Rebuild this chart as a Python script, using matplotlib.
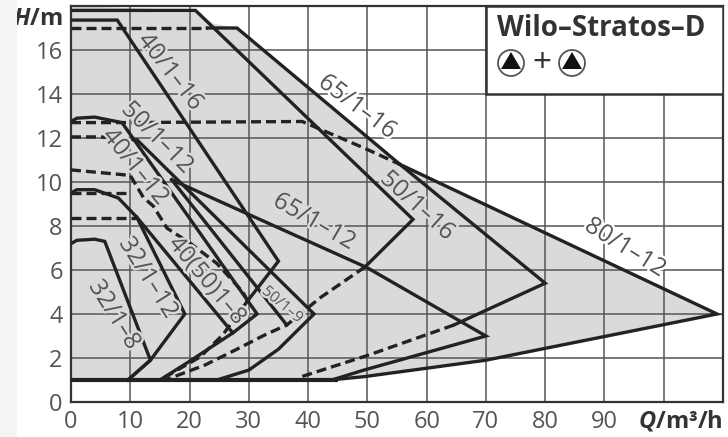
import matplotlib
matplotlib.use('Agg')
import matplotlib.pyplot as plt
import matplotlib.patheffects as pe
from matplotlib.patches import Rectangle, Circle, Polygon

plt.rcParams['font.family'] = ['Open Sans', 'DejaVu Sans']
plt.rcParams['mathtext.fontset'] = 'custom'
plt.rcParams['mathtext.it'] = 'Open Sans:italic:bold'
plt.rcParams['mathtext.rm'] = 'Open Sans:bold'

# DATA ##########################################
x_ticks = [0, 10, 20, 30, 40, 50, 60, 70, 80, 90]
y_ticks = [0, 2, 4, 6, 8, 10, 12, 14, 16]
x_grid = [10, 20, 30, 40, 50, 60, 70, 80, 90, 100]
y_grid = [2, 4, 6, 8, 10, 12, 14, 16]

# outer envelope of the grey field
env_q = [0, 0, 21, 24, 28, 55.5, 109, 70, 49.4, 43.6]
env_h = [1, 18, 17.8, 17.2, 17.0, 10.8, 4, 1.9, 1.15, 1]

# solid curves
q_base = [0, 45]
h_base = [1, 1]
q_32_8 = [0, 1, 4, 5.7, 13.4, 9.6]
h_32_8 = [7.2, 7.35, 7.4, 7.3, 1.9, 1]
q_32_12 = [0, 1, 4, 8, 11.1, 19.2, 13.4, 9.6]
h_32_12 = [9.5, 9.65, 9.65, 9.27, 8.4, 4, 1.9, 1]
q_40_8 = [11.1, 27.3, 20, 15]
h_40_8 = [8.4, 3.14, 1.85, 1]
q_50_12 = [0, 1, 4, 8.6, 31.4, 27.3]
h_50_12 = [12.75, 12.9, 12.95, 12.7, 4, 3.14]
q_40_12 = [11.2, 41, 35, 30, 24.6]
h_40_12 = [11.9, 4, 2.4, 1.45, 1]
q_50_9 = [17, 36.4]
h_50_9 = [10.1, 3.5]
q_40_16 = [0, 7.8, 35, 29.8]
h_40_16 = [17.36, 17.36, 6.4, 4.6]
q_65_12 = [17, 50, 70, 49.4, 44]
h_65_12 = [10.1, 6.1, 3, 1.45, 1]
q_50_16 = [0, 21, 57.7, 49.6]
h_50_16 = [17.8, 17.8, 8.3, 6.14]
q_65_16 = [23, 28, 55.5, 80, 64.6]
h_65_16 = [17, 17, 10.8, 5.4, 3.5]
q_80_12 = [55.5, 109, 70, 49.4, 43.6]
h_80_12 = [10.8, 4, 1.9, 1.15, 1]

# dashed curves
qd_17 = [0, 23]
hd_17 = [17, 17]
qd_127 = [0, 8.6, 39, 49.4, 55.5]
hd_127 = [12.7, 12.7, 12.75, 11.55, 10.8]
qd_12 = [0, 5, 11.2]
hd_12 = [12.05, 12.05, 11.9]
qd_105 = [0, 10, 12.2, 13.9, 16.2, 20.2, 24.6, 29, 30.2]
hd_105 = [10.55, 10.3, 9.3, 8.9, 7.9, 7.2, 6.3, 5, 4.4]
qd_95 = [0, 10]
hd_95 = [9.5, 9.5]
qd_84 = [0, 11.1]
hd_84 = [8.36, 8.36]
qd_50_16 = [49.6, 42, 36.4, 32.7, 27.7, 22.6, 15.9]
hd_50_16 = [6.14, 4.73, 3.5, 3.05, 2.36, 1.68, 1]
qd_40_16 = [29.8, 25.6, 21.8, 15]
hd_40_16 = [4.6, 3.05, 2.05, 1]
qd_65_16 = [64.6, 50.4, 38.3]
hd_65_16 = [3.5, 2.15, 1.1]

solid = [(q_32_8, h_32_8), (q_32_12, h_32_12), (q_40_8, h_40_8),
         (q_50_12, h_50_12), (q_40_12, h_40_12), (q_50_9, h_50_9), (q_40_16, h_40_16),
         (q_65_12, h_65_12), (q_50_16, h_50_16), (q_65_16, h_65_16), (q_80_12, h_80_12)]
dashed = [(qd_17, hd_17), (qd_127, hd_127), (qd_12, hd_12), (qd_105, hd_105), (qd_95, hd_95),
          (qd_84, hd_84), (qd_50_16, hd_50_16), (qd_40_16, hd_40_16), (qd_65_16, hd_65_16)]

GREY = '#d9dadc'
INK = '#222222'
TXT = '#555555'

# FIGURE ########################################
fig = plt.figure(figsize=(7.28, 4.37), dpi=100)
fig.patch.set_facecolor('white')
fig.patches.append(Rectangle((0, 0), 17/728, 1, transform=fig.transFigure, fc='#f4f4f4', ec='none'))

ax = fig.add_axes([71/728, 1-402/437, (723-71)/728, (402-6)/437])
ax.set_xlim(0, 110)
ax.set_ylim(0, 18)

ax.fill(env_q, env_h, color=GREY, lw=0, zorder=1)
ax.vlines(x_grid, 0, 18, color='#555555', lw=1.1, zorder=2)
ax.hlines(y_grid, 0, 110, color='#555555', lw=1.1, zorder=2)

ax.plot(q_base, h_base, color=INK, lw=3, zorder=3, solid_capstyle='butt')
for q, h in solid:
    ax.plot(q, h, color=INK, lw=2.4, zorder=3, solid_joinstyle='miter')
for q, h in dashed:
    ax.plot(q, h, color=INK, lw=2.4, zorder=3, linestyle=(0, (3.0, 1.5)))

ax.set_xticks(x_ticks)
ax.set_yticks(y_ticks)
ax.tick_params(length=0, labelsize=17, labelcolor=TXT, pad=6)
for s in ax.spines.values():
    s.set_color('#333333')
    s.set_linewidth(1.6)

# legend box
ax.add_patch(Rectangle((70, 14), 40, 4, fc='white', ec='#333333', lw=1.8, zorder=4))

# overlay in pixels for the texts
ov = fig.add_axes([0, 0, 1, 1])
ov.set_xlim(0, 728)
ov.set_ylim(437, 0)
ov.axis('off')
ov.patch.set_alpha(0)

curve_labels = [
    ('40/1–16', 170, 72, -52, GREY, 17.5),
    ('65/1–16', 357, 107, -37, 'white', 17.5),
    ('50/1–16', 417, 206, -42, GREY, 17.5),
    ('80/1–12', 625, 248, -32, 'white', 17.5),
    ('65/1–12', 314, 222, -30, GREY, 17.5),
    ('50/1–12', 157, 138, -45, GREY, 17.5),
    ('40/1–12', 135, 167, -51, GREY, 17.5),
    ('32/1–12', 148, 278, -58, GREY, 17.5),
    ('32/1–8', 114, 315, -58, GREY, 17.5),
    ('40(50)1–8', 207, 281, -50, GREY, 17),
    ('50/1–9', 282, 305, -40, GREY, 11),
]
for t, x, y, rot, bg, fs in curve_labels:
    ov.text(x, y, t, rotation=rot, rotation_mode='anchor', ha='center', va='center',
            fontsize=fs, color=TXT, zorder=5,
            path_effects=[pe.withStroke(linewidth=3.5, foreground=bg)])

ov.text(63, 19, r'$\mathit{H}$/m', ha='right', va='center', fontsize=17, color='#333333', fontweight='bold')
ov.text(723, 421, r'$\mathit{Q}$/m³/h', ha='right', va='center', fontsize=17, color='#333333', fontweight='bold')
ov.text(497, 28, 'Wilo–Stratos–D', ha='left', va='center', fontsize=20, color='#333333', fontweight='bold')

# pump symbols
for cx in (511, 572):
    ov.add_patch(Circle((cx, 63), 13, fc='white', ec='#555555', lw=1.3))
    ov.add_patch(Polygon([(cx-10, 69), (cx+10, 69), (cx, 52)], fc='#111111', ec='none'))
ov.text(542, 63, '+', ha='center', va='center', fontsize=24, color='#333333')

fig.savefig('out.png', dpi=100)
